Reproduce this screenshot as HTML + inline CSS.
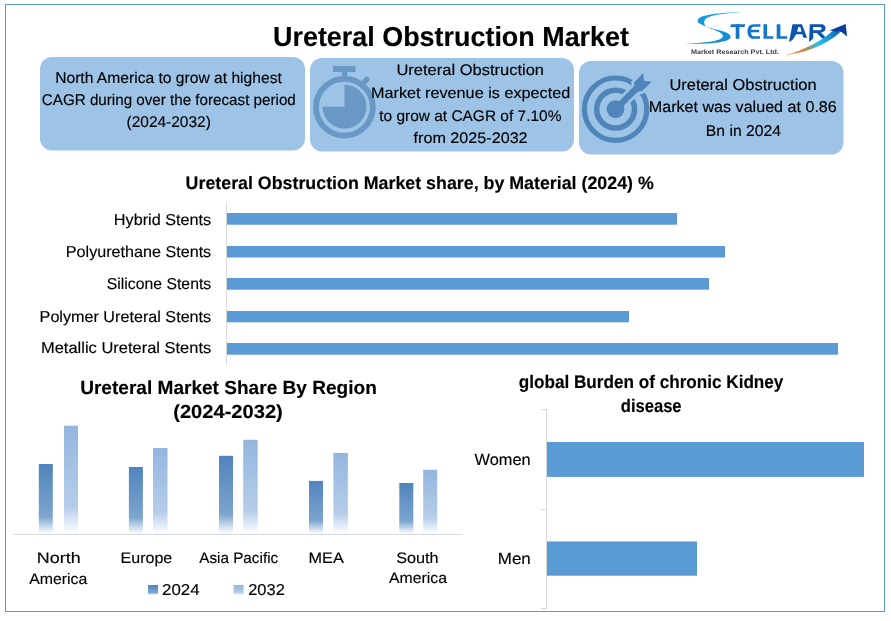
<!DOCTYPE html>
<html><head><meta charset="utf-8">
<style>
html,body{margin:0;padding:0;background:#fff;width:891px;height:621px;overflow:hidden}
svg{display:block;will-change:transform}
text{text-rendering:geometricPrecision;font-family:"Liberation Sans",sans-serif;fill:#000;stroke:#000;stroke-width:0.15px}
.b{font-weight:bold}
</style></head>
<body>
<svg width="891" height="621" viewBox="0 0 891 621">
<defs>
  <linearGradient id="g24" x1="0" y1="0" x2="0" y2="1">
    <stop offset="0" stop-color="#5084bc"/>
    <stop offset="0.75" stop-color="#7ca5cf"/>
    <stop offset="1" stop-color="#ffffff"/>
  </linearGradient>
  <linearGradient id="g32" x1="0" y1="0" x2="0" y2="1">
    <stop offset="0" stop-color="#93b6de"/>
    <stop offset="0.75" stop-color="#b6cdea"/>
    <stop offset="1" stop-color="#ffffff"/>
  </linearGradient>
</defs>
<rect x="5.5" y="4.5" width="879" height="607" fill="#fff" stroke="#5b9bd5" stroke-width="1"/>
<rect x="40" y="57" width="265" height="93.5" rx="12" fill="#9dc3e6"/>
<rect x="310" y="58" width="264" height="93.5" rx="12" fill="#9dc3e6"/>
<rect x="579" y="61" width="264.5" height="93.5" rx="12" fill="#9dc3e6"/>
<g fill="#6a98c4" stroke="none">
  <circle cx="344.4" cy="107.2" r="28.4" fill="none" stroke="#6a98c4" stroke-width="5.8"/>
  <rect x="333" y="66" width="22.6" height="6"/>
  <rect x="341.8" y="71" width="5.4" height="7"/>
  <rect x="363.2" y="76.5" width="5.4" height="8" rx="2.2" transform="rotate(45 365.9 80.5)"/>
  <path d="M344.5 106.7 L344.5 84.7 A22 22 0 1 1 322.5 106.7 Z"/>
</g>
<g>
  <circle cx="615.6" cy="109.2" r="31.2" fill="none" stroke="#4f85b8" stroke-width="5.2"/>
  <circle cx="615.6" cy="109.2" r="18.9" fill="none" stroke="#4f85b8" stroke-width="5.5"/>
  <path d="M613.34 106.94 L634.41 85.87 L633.91 82.68 L643.07 73.03 L644.10 80.70 L651.77 81.73 L642.19 90.96 L637.66 91.66 L617.86 111.46 Z" fill="#9dc3e6" stroke="#9dc3e6" stroke-width="5.4" stroke-linejoin="round"/>
  <path d="M613.34 106.94 L634.41 85.87 L633.91 82.68 L643.07 73.03 L644.10 80.70 L651.77 81.73 L642.19 90.96 L637.66 91.66 L617.86 111.46 Z" fill="#4f85b8"/>
  <circle cx="615.5" cy="109.1" r="8.9" fill="#4f85b8"/>
</g>
<g id="logo">
  <defs>
    <linearGradient id="sg" x1="0" y1="0" x2="0" y2="1">
      <stop offset="0" stop-color="#11a3e4"/>
      <stop offset="1" stop-color="#1689d6"/>
    </linearGradient>
    <linearGradient id="ag" x1="786" y1="54" x2="847" y2="26" gradientUnits="userSpaceOnUse">
      <stop offset="0" stop-color="#f58a3a" stop-opacity="0.6"/>
      <stop offset="0.25" stop-color="#e0782a"/>
      <stop offset="0.5" stop-color="#22c4ee"/>
      <stop offset="1" stop-color="#0a3fa0"/>
    </linearGradient>
  </defs>
  <path fill="url(#sg)" d="M742.6 12.2 C728 12.3 712 13.2 702 16.5 C697 18.3 696.4 21.5 699.5 23.5 C704 26.5 712 28.5 722 31 C729 33 732 35.5 730 38.5 C727 41.5 718 42.8 707.6 43.4 C700 43.9 692 44.1 686 43.7 C694 43.5 703 42.6 712 41.4 C719 40.2 723.5 38 722.8 35.5 C722 32.5 715 30 709 28 C704 26 703 22.5 705.5 19 C709 15.5 720 13.5 742.6 12.2 Z"/>
  <g fill="#1276cc">
    <path d="M731.1 24.2 H745.4 L744.4 26.9 H730.1 Z"/>
    <rect x="735.7" y="24.2" width="3.7" height="14.6"/>
    <path d="M760.4 24.2 H753.5 C749.5 24.2 747.5 27 747.5 31.2 C747.5 35.8 749.8 38.8 753.5 38.8 H760 V36.3 H754 C752 36.3 751.1 34.5 751 32.3 H759 V29.7 H751.1 C751.4 27.9 752.3 26.7 754 26.7 H760.4 Z"/>
    <path d="M763.5 24.2 H767.1 V36.3 H773.2 V38.8 H763.5 Z"/>
    <path d="M776.7 24.2 H780.4 V36.3 H787.2 V38.8 H776.7 Z"/>
  </g>
  <g fill="#0b55b0">
    <path fill-rule="evenodd" d="M789 42.1 L792.5 24.2 H802 L807 37.7 H803.3 L802.3 34.2 H796.2 L792.5 40 Z M797.2 31.8 H801.6 L800.3 27 H798.3 Z"/>
    <path fill-rule="evenodd" d="M809.8 24.2 H821.5 C824.5 24.2 825.5 26.5 825.5 28.3 C825.5 30.5 824 32 821 32.6 L826.6 38.4 H822.3 L816.8 33 H813.2 V38.5 L809 42.1 Z M813.2 27 H819.5 C821 27 821.7 27.8 821.7 28.6 C821.7 29.6 821 30.2 819.5 30.2 H813.2 Z"/>
  </g>
  <path fill="url(#ag)" d="M786 55.3 C804 52.5 825 46 840 32.5 L835.5 28.5 C821 42 803 50.5 786 54.7 Z"/>
  <path fill="#0a3fa0" d="M829.6 30.6 L845.6 24 L847.1 36.4 L841.5 32 Z"/>
  <text x="691" y="53.5" font-size="6.6" font-weight="bold" fill="#404040" textLength="88" lengthAdjust="spacingAndGlyphs" style="fill:#404040;stroke:none">Market Research Pvt. Ltd.</text>
</g>
<line x1="226.5" y1="202.5" x2="226.5" y2="365" stroke="#d9d9d9" stroke-width="1"/>
<g fill="#5b9bd5">
  <rect x="227" y="213" width="450" height="11.7"/>
  <rect x="227" y="246" width="498" height="11.5"/>
  <rect x="227" y="278" width="482" height="11.7"/>
  <rect x="227" y="311" width="402" height="11.3"/>
  <rect x="227" y="343" width="611" height="11.7"/>
</g>
<g>
  <rect x="38.8" y="464" width="14" height="70" fill="url(#g24)"/>
  <rect x="64" y="425.7" width="14" height="108.3" fill="url(#g32)"/>
  <rect x="128.9" y="467" width="14" height="67" fill="url(#g24)"/>
  <rect x="153" y="448" width="14.5" height="86" fill="url(#g32)"/>
  <rect x="219" y="455.8" width="14" height="78.2" fill="url(#g24)"/>
  <rect x="243.2" y="439.8" width="14.5" height="94.2" fill="url(#g32)"/>
  <rect x="309" y="480.9" width="14" height="53.1" fill="url(#g24)"/>
  <rect x="333.4" y="452.9" width="14.5" height="81.1" fill="url(#g32)"/>
  <rect x="399.3" y="483" width="14" height="51" fill="url(#g24)"/>
  <rect x="423.2" y="469.8" width="14" height="64.2" fill="url(#g32)"/>
</g>
<line x1="13" y1="534.5" x2="462.5" y2="534.5" stroke="#d9d9d9" stroke-width="1"/>
<rect x="148" y="585" width="10" height="10" fill="url(#g24)"/>
<rect x="233.6" y="585" width="10" height="10" fill="url(#g32)"/>
<g stroke="#d9d9d9" stroke-width="1" fill="none">
  <path d="M546.5 409 V609 M541 409.5 H547 M541 509.5 H547 M541 608.5 H547"/>
</g>
<rect x="547" y="442" width="317" height="34.9" fill="#5b9bd5"/>
<rect x="547" y="541.4" width="150" height="34.3" fill="#5b9bd5"/>

<text id="t_title" class="b" x="273.00" y="45.9" font-size="27.5" textLength="356.00" lengthAdjust="spacingAndGlyphs">Ureteral Obstruction Market</text>
<text id="b1l1" x="55.20" y="82.8" font-size="15.51" textLength="226.60" lengthAdjust="spacingAndGlyphs">North America to grow at highest</text>
<text id="b1l2" x="41.80" y="104.8" font-size="15.51" textLength="254.00" lengthAdjust="spacingAndGlyphs">CAGR during over the forecast period</text>
<text id="b1l3" x="126.60" y="127.3" font-size="15.51" textLength="84.20" lengthAdjust="spacingAndGlyphs">(2024-2032)</text>
<text id="b2l1" x="396.40" y="74.9" font-size="15.3" textLength="147.60" lengthAdjust="spacingAndGlyphs">Ureteral Obstruction</text>
<text id="b2l2" x="371.00" y="97.8" font-size="15.3" textLength="199.20" lengthAdjust="spacingAndGlyphs">Market revenue is expected</text>
<text id="b2l3" x="379.20" y="120.5" font-size="15.3" textLength="182.20" lengthAdjust="spacingAndGlyphs">to grow at CAGR of 7.10%</text>
<text id="b2l4" x="413.60" y="143.4" font-size="15.3" textLength="114.00" lengthAdjust="spacingAndGlyphs">from 2025-2032</text>
<text id="b3l1" x="669.40" y="89.6" font-size="15.61" textLength="147.20" lengthAdjust="spacingAndGlyphs">Ureteral Obstruction</text>
<text id="b3l2" x="648.80" y="112.2" font-size="15.61" textLength="188.00" lengthAdjust="spacingAndGlyphs">Market was valued at 0.86</text>
<text id="b3l3" x="705.80" y="135.5" font-size="15.61" textLength="75.20" lengthAdjust="spacingAndGlyphs">Bn in 2024</text>
<text id="c1t" class="b" x="185.60" y="189" font-size="18" textLength="468.20" lengthAdjust="spacingAndGlyphs">Ureteral Obstruction Market share, by Material (2024) %</text>
<text id="c1a" x="113.80" y="225.3" font-size="15.82" textLength="97.40" lengthAdjust="spacingAndGlyphs">Hybrid Stents</text>
<text id="c1b" x="65.80" y="256.8" font-size="15.82" textLength="145.40" lengthAdjust="spacingAndGlyphs">Polyurethane Stents</text>
<text id="c1c" x="106.80" y="288.8" font-size="15.82" textLength="104.40" lengthAdjust="spacingAndGlyphs">Silicone Stents</text>
<text id="c1d" x="39.60" y="322" font-size="15.82" textLength="171.60" lengthAdjust="spacingAndGlyphs">Polymer Ureteral Stents</text>
<text id="c1e" x="41.00" y="353.3" font-size="15.82" textLength="170.20" lengthAdjust="spacingAndGlyphs">Metallic Ureteral Stents</text>
<text id="c2t1" class="b" x="80.20" y="394.4" font-size="19" textLength="296.60" lengthAdjust="spacingAndGlyphs">Ureteral Market Share By Region</text>
<text id="c2t2" class="b" x="173.20" y="417.8" font-size="19" textLength="109.60" lengthAdjust="spacingAndGlyphs">(2024-2032)</text>
<text id="c2a1" x="36.80" y="562.9" font-size="15.19" textLength="43.80" lengthAdjust="spacingAndGlyphs">North</text>
<text id="c2a2" x="29.20" y="584" font-size="15.19" textLength="58.20" lengthAdjust="spacingAndGlyphs">America</text>
<text id="c2b" x="120.60" y="562.8" font-size="15.19" textLength="51.60" lengthAdjust="spacingAndGlyphs">Europe</text>
<text id="c2c" x="199.20" y="562.8" font-size="15.19" textLength="79.00" lengthAdjust="spacingAndGlyphs">Asia Pacific</text>
<text id="c2d" x="308.60" y="562.8" font-size="15.19" textLength="35.20" lengthAdjust="spacingAndGlyphs">MEA</text>
<text id="c2e1" x="396.20" y="562.8" font-size="15.19" textLength="42.40" lengthAdjust="spacingAndGlyphs">South</text>
<text id="c2e2" x="389.00" y="583.4" font-size="15.19" textLength="58.00" lengthAdjust="spacingAndGlyphs">America</text>
<text id="lg1" x="162.00" y="595" font-size="15.82" textLength="37.60" lengthAdjust="spacingAndGlyphs">2024</text>
<text id="lg2" x="248.20" y="595" font-size="15.82" textLength="36.60" lengthAdjust="spacingAndGlyphs">2032</text>
<text id="c3t1" class="b" x="518.80" y="388.3" font-size="18.3" textLength="264.60" lengthAdjust="spacingAndGlyphs">global Burden of chronic Kidney</text>
<text id="c3t2" class="b" x="620.80" y="411.8" font-size="18.3" textLength="60.80" lengthAdjust="spacingAndGlyphs">disease</text>
<text id="c3a" x="474.60" y="464.9" font-size="16.14" textLength="56.00" lengthAdjust="spacingAndGlyphs">Women</text>
<text id="c3b" x="497.80" y="563.8" font-size="16.14" textLength="33.00" lengthAdjust="spacingAndGlyphs">Men</text>
</svg>
</body></html>
